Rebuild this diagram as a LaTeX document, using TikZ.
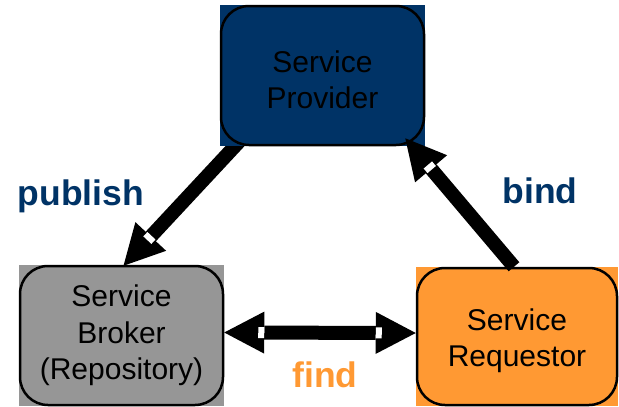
\documentclass[tikz,border=0pt]{standalone}
\usepackage{fontspec}
\setmainfont{Liberation Sans}
\usetikzlibrary{arrows.meta,calc}

\definecolor{navy}{RGB}{0,51,102}
\definecolor{brokergray}{RGB}{150,150,150}
\definecolor{reqorange}{RGB}{255,153,51}

% shafts: behind the box fills; fills: square colour panels;
% over: arrows lying on top of the fills; main: rounded outlines and text
\pgfdeclarelayer{shafts}
\pgfdeclarelayer{fills}
\pgfdeclarelayer{over}
\pgfsetlayers{shafts,fills,over,main}

\tikzset{
  box/.style={draw=black, line width=2.5pt, rounded corners=28pt,
    inner sep=0pt, align=center, text=black,
    font=\fontsize{30}{36.5}\selectfont},
  lbl/.style={inner sep=0pt, anchor=base,
    font=\fontsize{35.5}{40}\selectfont\bfseries},
  bigtip/.tip={Triangle[length=40pt,width=42pt,line width=0pt]},
  bigarrow/.style={draw=black, line width=14pt, line cap=butt, -bigtip},
  bigdouble/.style={draw=black, line width=14pt, line cap=butt, bigtip-bigtip},
  gapmark/.style={fill=white, draw=none, inner sep=0pt,
    minimum width=6pt, minimum height=11pt}
}

\begin{document}
\begin{tikzpicture}[x=1pt,y=-1pt]
\useasboundingbox (0,0) rectangle (619,407);

% the three parties
\node[box, minimum width=203pt, minimum height=139pt] (prov) at (322.5,75.5)
  {\rule{0pt}{30pt}Service\\Provider};
\node[box, minimum width=203pt, minimum height=139pt] (broker) at (121.5,335.5)
  {Service\\Broker\\(Repository)};
\node[box, minimum width=200pt, minimum height=137pt] (req) at (517,336.5)
  {\rule{0pt}{30pt}Service\\Requestor};

% square colour panels behind the rounded outlines
\begin{pgfonlayer}{fills}
  \fill[navy] (prov.north west) rectangle (prov.south east);
  \fill[brokergray] (broker.north west) rectangle (broker.south east);
  \fill[reqorange] (req.north west) rectangle (req.south east);
\end{pgfonlayer}

% connector end points
\coordinate (pubTail) at ($(prov.south west)+(30,-16)$);
\coordinate (pubTip) at ($(broker.north)+(2,1)$);
\coordinate (bindTail) at ($(req.north)+(-3,0)$);
\coordinate (bindTip) at ($(prov.south east)+(-20,-8)$);
\coordinate (findL) at ($(broker.east)+(0,-3)$);
\coordinate (findR) at ($(req.west)+(0,-3.5)$);

% publish: provider -> broker, starting under the provider panel
\begin{pgfonlayer}{shafts}
  \draw[bigarrow] (pubTail) -- (pubTip);
  \path ($(pubTip)!38pt!(pubTail)$) -- (pubTail) node[pos=0, sloped, gapmark] {};
\end{pgfonlayer}

% bind and find
\begin{pgfonlayer}{over}
  \draw[bigarrow] (bindTail) -- (bindTip);
  \path ($(bindTip)!38pt!(bindTail)$) -- (bindTail) node[pos=0, sloped, gapmark] {};
  \draw[bigdouble] (findL) -- (findR);
  \path ($(findL)!37pt!(findR)$) -- (findR) node[pos=0, sloped, gapmark] {};
  \path ($(findR)!37pt!(findL)$) -- (findL) node[pos=0, sloped, gapmark] {};
\end{pgfonlayer}

% operation labels
\node[lbl, text=navy] (publishLbl) at (81,205) {publish};
\node[lbl, text=navy] (bindLbl) at (540,203) {bind};
\node[lbl, text=reqorange] (findLbl) at (325,387) {find};
\end{tikzpicture}
\end{document}
